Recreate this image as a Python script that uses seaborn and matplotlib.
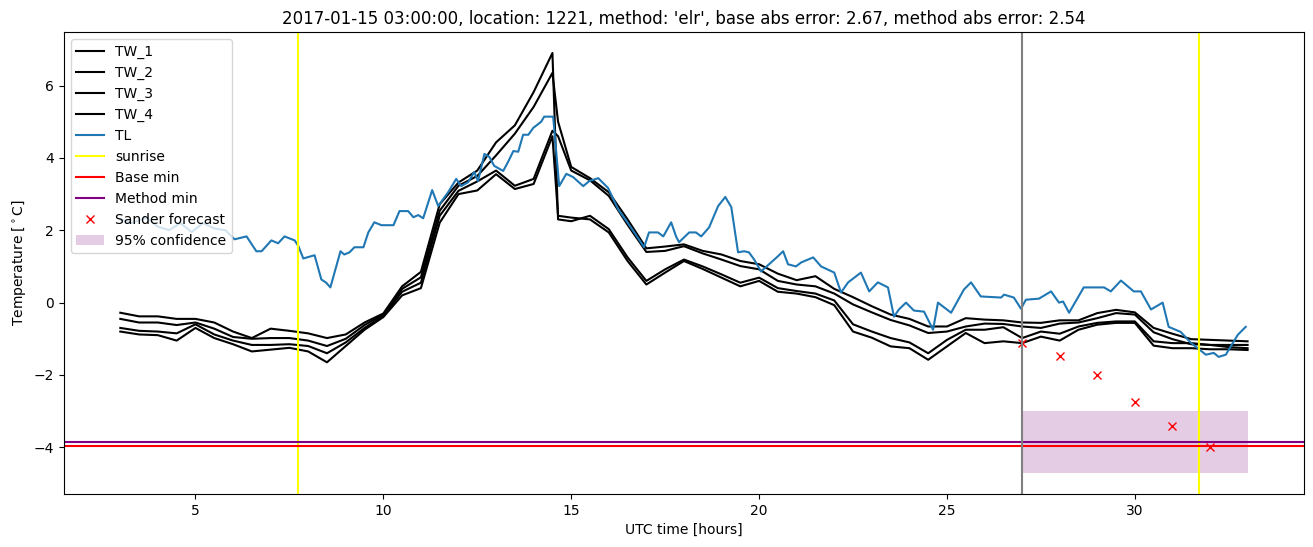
import matplotlib
matplotlib.use("Agg")
import matplotlib.pyplot as plt
import seaborn as sns
import pandas as pd

# ---------------- data ----------------
tw_time = [3.0, 3.5, 4.0, 4.5, 5.0, 5.5, 6.0, 6.5, 7.0, 7.5, 8.0, 8.5, 9.0, 9.5,
           10.0, 10.5, 11.0, 11.5, 12.0, 12.5, 13.0, 13.5, 14.0, 14.5, 14.65,
           15.0, 15.5, 16.0, 16.5, 17.0, 17.5, 18.0, 18.5, 19.0, 19.5, 20.0,
           20.5, 21.0, 21.5, 22.0, 22.5, 23.0, 23.5, 24.0, 24.5, 25.0, 25.5,
           26.0, 26.5, 27.0, 27.5, 28.0, 28.5, 29.0, 29.5, 30.0, 30.5, 31.0,
           31.5, 32.0, 32.5, 33.0]

tw_1 = [-0.28, -0.38, -0.38, -0.45, -0.45, -0.55, -0.80, -0.98, -0.72, -0.78, -0.85,
        -0.98, -0.88, -0.55, -0.30, 0.45, 0.85, 2.72, 3.32, 3.65, 4.43, 4.90, 5.82,
        6.90, 2.30, 2.25, 2.40, 2.03, 1.25, 0.60, 0.92, 1.19, 1.00, 0.78, 0.55, 0.69,
        0.40, 0.32, 0.25, 0.06, -0.60, -0.80, -0.98, -1.10, -1.40, -1.03, -0.75,
        -0.75, -0.68, -0.98, -0.80, -0.86, -0.66, -0.56, -0.52, -0.52, -1.07, -1.12,
        -1.12, -1.17, -1.23, -1.26]

tw_2 = [-0.45, -0.55, -0.55, -0.62, -0.55, -0.72, -0.95, -1.00, -0.98, -0.98, -1.05,
        -1.20, -1.00, -0.62, -0.33, 0.38, 0.70, 2.54, 3.23, 3.50, 4.07, 4.67, 5.41,
        6.35, 5.00, 3.75, 3.44, 3.05, 2.30, 1.50, 1.55, 1.61, 1.43, 1.33, 1.15, 1.06,
        0.80, 0.62, 0.73, 0.38, 0.15, -0.10, -0.33, -0.45, -0.66, -0.66, -0.43,
        -0.47, -0.49, -0.55, -0.56, -0.49, -0.49, -0.29, -0.20, -0.27, -0.70, -0.86,
        -1.01, -1.03, -1.05, -1.07]

tw_3 = [-0.70, -0.78, -0.80, -0.85, -0.60, -0.88, -1.05, -1.17, -1.17, -1.15, -1.20,
        -1.40, -1.10, -0.70, -0.37, 0.30, 0.55, 2.40, 3.09, 3.35, 3.65, 3.23, 3.42,
        4.75, 4.60, 3.65, 3.38, 2.95, 2.15, 1.40, 1.43, 1.56, 1.36, 1.19, 1.01, 0.92,
        0.60, 0.50, 0.45, 0.25, -0.05, -0.27, -0.48, -0.63, -0.84, -0.80, -0.66,
        -0.58, -0.59, -0.66, -0.70, -0.58, -0.55, -0.43, -0.29, -0.33, -0.82, -1.01,
        -1.15, -1.17, -1.17, -1.17]

tw_4 = [-0.80, -0.88, -0.90, -1.05, -0.70, -0.98, -1.15, -1.35, -1.30, -1.25, -1.35,
        -1.65, -1.20, -0.75, -0.40, 0.20, 0.40, 2.21, 3.00, 3.10, 3.55, 3.14, 3.28,
        4.60, 2.40, 2.35, 2.30, 1.94, 1.15, 0.50, 0.83, 1.15, 0.93, 0.69, 0.45, 0.60,
        0.30, 0.25, 0.15, -0.07, -0.80, -0.97, -1.21, -1.26, -1.58, -1.21, -0.84,
        -1.12, -1.07, -1.12, -0.94, -1.05, -0.75, -0.61, -0.56, -0.56, -1.19, -1.26,
        -1.26, -1.29, -1.29, -1.31]

tl_time = [3.0, 3.3, 3.7, 4.0, 4.3, 4.6, 4.9, 5.2, 5.5, 5.8, 6.04, 6.36, 6.62, 6.76,
           7.02, 7.2, 7.37, 7.64, 7.74, 7.87, 8.17, 8.35, 8.48, 8.59, 8.86, 8.96,
           9.1, 9.23, 9.47, 9.6, 9.76, 9.95, 10.27, 10.43, 10.66, 10.8, 10.93,
           11.06, 11.3, 11.46, 11.73, 11.94, 12.07, 12.26, 12.42, 12.52, 12.69,
           12.82, 12.95, 13.19, 13.32, 13.46, 13.59, 13.72, 13.86, 13.99, 14.2,
           14.28, 14.52, 14.68, 14.87, 15.05, 15.32, 15.48, 15.72, 15.98, 16.25,
           16.68, 16.94, 17.07, 17.31, 17.45, 17.66, 17.79, 17.87, 18.14, 18.32,
           18.46, 18.67, 18.91, 19.1, 19.26, 19.44, 19.6, 19.73, 19.87, 20.05,
           20.32, 20.5, 20.64, 20.77, 20.98, 21.12, 21.44, 21.65, 22.0, 22.18,
           22.37, 22.71, 22.93, 23.16, 23.43, 23.59, 23.72, 23.91, 24.12, 24.39,
           24.63, 24.76, 25.11, 25.45, 25.64, 25.9, 26.44, 26.52, 26.78, 26.97,
           27.1, 27.45, 27.77, 27.98, 28.09, 28.25, 28.64, 29.18, 29.36, 29.63,
           29.97, 30.16, 30.43, 30.74, 30.9, 31.22, 31.49, 31.89, 32.1, 32.23,
           32.42, 32.74, 32.95]
tl = [2.30, 2.20, 2.35, 2.10, 2.00, 2.20, 1.95, 2.20, 2.05, 2.00, 1.75, 1.83, 1.42,
      1.42, 1.72, 1.64, 1.83, 1.72, 1.56, 1.22, 1.31, 0.64, 0.55, 0.42, 1.42, 1.33,
      1.39, 1.53, 1.53, 1.94, 2.22, 2.14, 2.14, 2.53, 2.53, 2.36, 2.42, 2.33, 3.11,
      2.67, 3.06, 3.42, 3.22, 3.33, 3.61, 3.36, 4.11, 4.03, 3.78, 3.64, 3.89, 4.19,
      4.17, 4.64, 4.64, 4.83, 5.00, 5.14, 5.14, 3.22, 3.56, 3.47, 3.22, 3.36, 3.44,
      3.17, 2.58, 1.94, 1.53, 1.94, 1.94, 1.83, 2.22, 1.83, 1.67, 1.94, 1.94, 1.83,
      2.08, 2.67, 2.92, 2.64, 1.39, 1.42, 1.39, 1.19, 0.86, 1.11, 1.28, 1.42, 1.06,
      1.00, 1.11, 1.25, 1.00, 0.83, 0.28, 0.56, 0.83, 0.31, 0.56, 0.42, -0.39,
      -0.19, 0.00, -0.22, -0.25, -0.75, 0.00, -0.28, 0.36, 0.56, 0.17, 0.14, 0.22,
      0.14, -0.17, 0.08, 0.11, 0.31, 0.00, 0.03, -0.28, 0.42, 0.42, 0.31, 0.61,
      0.31, 0.31, -0.19, 0.00, -0.67, -0.81, -1.11, -1.44, -1.39, -1.50, -1.44,
      -0.89, -0.67]

sunrise_times = [7.74, 31.72]
forecast_start = 27.0
base_min = -3.95
method_min = -3.84

sander_time = [27, 28, 29, 30, 31, 32]
sander_forecast = [-1.12, -1.48, -2.01, -2.76, -3.40, -3.98]

conf_time = [27.0, 33.0]
conf_low = [-4.71, -4.71]
conf_high = [-3.00, -3.00]

title = ("2017-01-15 03:00:00, location: 1221, method: 'elr', "
         "base abs error: 2.67, method abs error: 2.54")

# ---------------- plot ----------------
fig = plt.figure(figsize=(13.13, 5.47), dpi=100)
ax = fig.add_axes([0.0487, 0.0969, 0.9444, 0.8446])

tw_df = pd.DataFrame({"time": tw_time, "TW_1": tw_1, "TW_2": tw_2,
                      "TW_3": tw_3, "TW_4": tw_4})
for name in ["TW_1", "TW_2", "TW_3", "TW_4"]:
    sns.lineplot(data=tw_df, x="time", y=name, color="black", label=name,
                 ax=ax, linewidth=1.5)
sns.lineplot(x=tl_time, y=tl, color="tab:blue", label="TL", ax=ax, linewidth=1.5)

ax.axvline(sunrise_times[0], color="yellow", label="sunrise")
ax.axvline(sunrise_times[1], color="yellow")
ax.axhline(base_min, color="red", label="Base min")
ax.axhline(method_min, color="purple", label="Method min")
sns.lineplot(x=sander_time, y=sander_forecast, ax=ax, color="red",
             marker="x", linestyle="", markersize=6, markeredgewidth=1.0,
             markeredgecolor="red", label="Sander forecast")
ax.axvline(forecast_start, color="gray")
ax.fill_between(conf_time, conf_low, conf_high, color="purple", alpha=0.2,
                linewidth=0, label="95% confidence")

ax.set_title(title)
ax.set_xlabel("UTC time [hours]")
ax.set_ylabel(r"Temperature [$^\circ$C]")
ax.legend(loc="upper left")

fig.savefig("out.png", dpi=100)
